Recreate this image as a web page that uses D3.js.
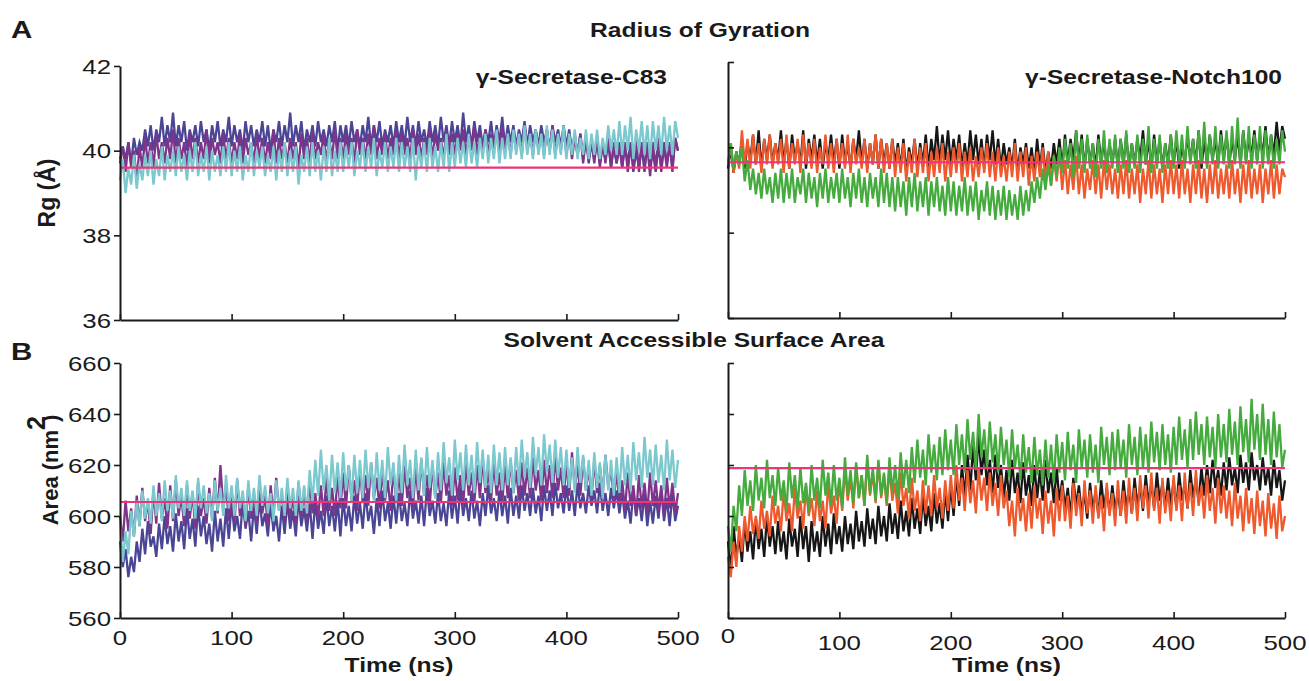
<!DOCTYPE html>
<html>
<head>
<meta charset="utf-8">
<script src="https://cdn.jsdelivr.net/npm/d3@7"></script>
<style>
  body { margin: 0; background: #fff; }
  svg { font-family: "Liberation Sans", Arial, sans-serif; }
</style>
</head>
<body>
<svg id="chart"></svg>
<script>
var svg_width = 1309
var svg_height = 681

// time in ns, one frame every 2.5 ns
var time = d3.range(0, 500.1, 2.5);

// Radius of gyration (Å), gamma-secretase-C83 runs
var rgC83Blue = [39.7,40.1,39.8,40.2,39.7,40.3,39.9,40.2,40.0,40.5,40.1,40.6,40.0,40.5,40.2,40.8,40.1,40.6,40.2,40.9,
  40.1,40.6,40.2,40.7,40.0,40.5,40.2,40.6,40.1,40.7,40.2,40.5,40.0,40.6,40.2,40.7,40.1,40.5,40.2,40.8,
  40.1,40.6,40.2,40.5,40.0,40.7,40.2,40.6,40.1,40.5,40.2,40.7,40.1,40.6,40.0,40.5,40.2,40.7,40.1,40.6,
  40.2,40.9,40.1,40.6,40.2,40.7,40.0,40.5,40.2,40.6,40.1,40.7,40.2,40.5,40.1,40.6,40.2,40.7,40.0,40.6,
  40.2,40.6,40.1,40.7,40.2,40.5,40.1,40.6,40.2,40.8,40.1,40.6,40.2,40.7,40.1,40.5,40.2,40.6,40.1,40.7,
  40.2,40.6,40.1,40.8,40.2,40.6,40.1,40.7,40.2,40.5,40.1,40.7,40.2,40.6,40.1,40.8,40.2,40.6,40.1,40.7,
  40.2,40.6,40.1,40.9,40.2,40.6,40.1,40.7,40.2,40.6,40.1,40.5,40.2,40.7,40.1,40.6,40.2,40.8,40.1,40.6,
  40.2,40.6,40.1,40.5,40.2,40.7,40.1,40.6,40.2,40.5,40.1,40.6,40.2,40.5,40.0,40.6,40.2,40.5,40.1,40.6,
  40.1,40.5,40.0,40.4,39.9,40.4,39.8,40.3,39.7,40.2,39.8,40.3,39.7,40.1,39.8,40.2,39.6,40.1,39.7,40.2,
  39.6,40.1,39.7,40.2,39.5,40.0,39.6,40.1,39.5,40.2,39.6,40.0,39.5,40.1,39.6,40.2,39.7,40.1,39.6,40.3,40.0];
var rgC83Purple = [39.8,40.1,39.5,40.2,39.6,40.0,39.3,40.1,39.6,40.3,39.7,40.2,39.6,40.4,39.8,40.2,39.7,40.3,39.8,40.5,
  39.7,40.3,39.8,40.2,39.6,40.4,39.8,40.3,39.7,40.2,39.8,40.5,39.7,40.3,39.9,40.2,39.7,40.4,39.8,40.3,
  39.7,40.2,39.8,40.4,39.7,40.3,39.9,40.2,39.7,40.4,39.8,40.3,39.7,40.2,39.8,40.5,39.7,40.3,39.8,40.2,
  39.7,40.3,39.8,40.2,39.6,40.4,39.8,40.3,39.7,40.5,39.8,40.2,39.9,40.4,39.7,40.3,39.8,40.5,39.8,40.3,
  39.8,40.4,39.9,40.3,39.7,40.5,39.9,40.3,39.8,40.4,39.9,40.6,39.8,40.3,39.9,40.4,39.8,40.3,39.9,40.5,
  39.8,40.4,39.9,40.3,39.8,40.5,39.9,40.4,39.8,40.3,39.9,40.5,39.8,40.4,40.0,40.3,39.8,40.5,39.9,40.4,
  39.9,40.4,40.0,40.5,39.9,40.4,40.0,40.6,39.9,40.4,40.0,40.5,39.9,40.4,40.0,40.5,39.9,40.6,40.0,40.4,
  39.9,40.5,40.0,40.4,39.9,40.6,40.0,40.4,39.9,40.5,40.0,40.4,39.9,40.5,40.0,40.6,39.9,40.4,40.0,40.5,
  39.9,40.4,39.8,40.3,39.9,40.4,39.7,40.3,39.8,40.2,39.7,40.3,39.6,40.2,39.7,40.3,39.6,40.2,39.7,40.1,
  39.6,40.2,39.5,40.1,39.6,40.3,39.5,40.2,39.6,40.1,39.4,40.2,39.6,40.3,39.5,40.1,39.6,40.2,39.5,40.3,40.0];
var rgC83Cyan = [39.3,39.8,39.0,39.6,39.2,39.9,39.1,39.7,39.3,39.9,39.4,40.0,39.2,39.8,39.4,40.1,39.3,39.9,39.5,40.0,
  39.4,40.1,39.5,39.9,39.3,40.0,39.5,40.2,39.4,39.9,39.5,40.1,39.3,40.0,39.5,39.9,39.4,40.1,39.5,40.2,
  39.4,40.0,39.5,40.1,39.3,39.9,39.5,40.2,39.4,40.0,39.6,40.1,39.4,39.9,39.5,40.1,39.3,40.0,39.5,40.2,
  39.4,40.0,39.5,40.1,39.2,39.9,39.5,40.1,39.4,40.2,39.5,40.0,39.3,40.1,39.5,40.3,39.4,40.0,39.5,40.2,
  39.5,40.1,39.6,40.2,39.4,40.0,39.6,40.2,39.5,40.1,39.6,40.3,39.4,40.0,39.6,40.2,39.5,40.1,39.6,40.3,
  39.5,40.2,39.6,40.1,39.5,40.3,39.3,40.1,39.6,40.2,39.5,40.3,39.6,40.1,39.5,40.2,39.6,40.4,39.5,40.2,
  39.6,40.3,39.7,40.2,39.6,40.4,39.7,40.2,39.6,40.3,39.8,40.4,39.7,40.3,39.8,40.5,39.7,40.3,39.8,40.4,
  39.8,40.5,39.9,40.4,39.8,40.6,39.9,40.4,39.8,40.5,39.9,40.4,39.8,40.6,39.9,40.5,39.8,40.4,39.9,40.6,
  39.8,40.4,39.9,40.5,39.8,40.3,39.9,40.5,39.8,40.4,39.9,40.5,39.8,40.3,39.9,40.6,40.0,40.5,39.9,40.7,
  39.9,40.6,40.0,40.8,39.8,40.5,40.0,40.7,39.9,40.6,39.8,40.7,40.0,40.6,39.9,40.8,40.0,40.6,39.9,40.7,40.3];
var rgC83Mean = 39.6;

// Radius of gyration (Å), gamma-secretase-Notch100 runs
var rgN100Black = [39.5,40.0,39.4,39.9,39.6,40.2,39.5,40.1,39.7,40.3,39.6,40.4,39.5,40.2,39.7,40.3,39.6,40.1,39.7,40.4,
  39.6,40.2,39.5,40.3,39.7,40.1,39.6,40.4,39.5,40.2,39.7,40.3,39.6,40.2,39.5,40.1,39.7,40.3,39.6,40.2,
  39.5,40.3,39.6,40.1,39.5,40.2,39.7,40.4,39.6,40.2,39.5,40.1,39.6,40.3,39.5,40.2,39.6,40.1,39.5,40.2,
  39.6,40.1,39.5,40.2,39.4,40.0,39.6,40.2,39.5,40.1,39.6,40.3,39.5,40.2,39.7,40.5,39.6,40.3,39.7,40.4,
  39.6,40.2,39.7,40.3,39.5,40.1,39.6,40.4,39.7,40.3,39.6,40.2,39.5,40.3,39.7,40.4,39.6,40.2,39.5,40.1,
  39.6,40.0,39.5,40.2,39.4,40.0,39.6,40.1,39.5,40.0,39.4,40.2,39.5,40.1,39.4,39.9,39.5,40.1,39.6,40.2,
  39.5,40.3,39.6,40.2,39.7,40.4,39.6,40.3,39.5,40.2,39.6,40.1,39.5,40.3,39.6,40.2,39.5,40.1,39.6,40.2,
  39.5,40.2,39.6,40.3,39.5,40.1,39.6,40.2,39.7,40.4,39.6,40.2,39.5,40.3,39.6,40.2,39.5,40.1,39.6,40.3,
  39.6,40.2,39.5,40.1,39.6,40.3,39.7,40.2,39.6,40.4,39.5,40.2,39.6,40.3,39.7,40.2,39.6,40.4,39.7,40.3,
  39.6,40.2,39.7,40.3,39.6,40.4,39.7,40.2,39.8,40.4,39.7,40.3,39.8,40.5,39.7,40.3,39.8,40.6,39.9,40.5,40.2];
var rgN100Orange = [39.6,40.1,39.4,39.9,39.5,40.4,39.6,40.2,39.5,40.3,39.6,40.1,39.4,40.2,39.6,40.3,39.5,40.1,39.6,40.2,
  39.4,40.3,39.5,40.1,39.6,40.2,39.4,40.3,39.6,40.1,39.5,40.2,39.4,40.0,39.6,40.3,39.5,40.1,39.4,40.2,
  39.6,40.1,39.5,40.3,39.4,40.2,39.6,40.0,39.5,40.2,39.4,40.1,39.6,40.3,39.5,40.2,39.4,40.1,39.5,40.2,
  39.3,40.0,39.4,40.1,39.2,39.9,39.4,40.2,39.3,40.0,39.4,40.1,39.2,39.9,39.3,40.0,39.4,40.1,39.2,39.9,
  39.3,40.0,39.4,40.1,39.2,39.9,39.3,40.0,39.2,39.8,39.3,40.0,39.4,40.1,39.3,39.9,39.2,40.0,39.3,39.8,
  39.2,39.9,39.3,40.1,39.2,39.9,39.3,40.0,39.1,39.8,39.2,39.9,39.3,40.0,39.2,39.9,39.1,39.8,39.2,39.9,
  39.0,39.7,38.9,39.6,39.0,39.8,38.9,39.6,38.8,39.5,39.0,39.7,38.9,39.6,38.8,39.7,39.0,39.6,38.9,39.5,
  38.8,39.6,38.9,39.7,38.8,39.5,38.9,39.6,38.7,39.5,38.9,39.7,38.8,39.6,38.9,39.5,38.7,39.6,38.9,39.7,
  38.9,39.6,38.8,39.7,38.9,39.5,38.7,39.6,38.9,39.7,38.8,39.5,38.7,39.6,38.9,39.7,38.8,39.5,38.9,39.6,
  38.8,39.7,38.9,39.5,38.7,39.6,38.9,39.7,38.8,39.5,38.9,39.6,38.7,39.5,38.9,39.7,38.8,39.6,38.9,39.5,39.3];
var rgN100Green = [39.6,40.1,39.5,39.9,39.6,40.0,39.2,39.7,39.0,39.5,38.9,39.4,38.8,39.5,38.9,39.3,38.7,39.4,38.8,39.5,
  38.7,39.4,38.8,39.5,38.7,39.3,38.9,39.5,38.7,39.4,38.8,39.3,38.6,39.4,38.8,39.5,38.7,39.3,38.8,39.4,
  38.7,39.5,38.8,39.3,38.6,39.4,38.8,39.5,38.7,39.3,38.6,39.4,38.8,39.3,38.6,39.5,38.7,39.4,38.6,39.3,
  38.5,39.3,38.6,39.2,38.4,39.3,38.6,39.4,38.5,39.2,38.6,39.3,38.4,39.2,38.6,39.3,38.5,39.1,38.4,39.3,
  38.5,39.2,38.4,39.1,38.5,39.3,38.4,39.1,38.5,39.2,38.3,39.0,38.5,39.2,38.4,39.1,38.3,39.0,38.4,39.1,
  38.3,39.0,38.4,38.9,38.3,39.1,38.4,39.0,38.5,39.2,38.7,39.3,38.8,39.5,39.0,39.6,39.1,39.8,39.3,40.0,
  39.4,40.2,39.5,40.1,39.3,40.4,39.5,40.2,39.4,40.3,39.5,40.1,39.3,40.2,39.5,40.4,39.4,40.2,39.5,40.3,
  39.4,40.2,39.5,40.4,39.4,40.1,39.5,40.3,39.4,40.2,39.6,40.5,39.4,40.2,39.5,40.3,39.4,40.1,39.5,40.3,
  39.5,40.4,39.6,40.3,39.5,40.5,39.6,40.2,39.5,40.4,39.6,40.6,39.5,40.3,39.6,40.5,39.5,40.3,39.6,40.4,
  39.5,40.5,39.6,40.7,39.5,40.4,39.6,40.5,39.5,40.3,39.6,40.5,39.5,40.4,39.6,40.3,39.5,40.2,39.6,40.4,39.9];
var rgN100Mean = 39.65;

// Solvent accessible surface area (nm²), C83 runs
var sasaC83Blue = [590,580,587,576,584,578,590,582,595,585,598,588,592,584,597,587,600,589,596,586,
  601,590,598,587,603,591,599,588,604,592,600,589,597,586,602,590,599,588,603,591,
  605,594,600,591,606,595,602,590,604,593,607,596,601,592,605,594,600,590,604,593,
  606,595,602,592,607,596,603,594,605,591,606,595,602,593,608,596,604,594,606,592,
  607,596,604,594,608,597,605,595,609,598,604,593,607,596,610,598,605,595,608,597,
  609,598,605,596,610,599,606,597,608,596,611,600,606,597,609,598,605,596,610,599,
  608,597,611,600,607,598,610,599,606,596,609,600,612,601,607,598,610,600,608,597,
  611,600,608,599,612,602,609,600,611,601,608,598,612,602,610,600,613,603,609,601,
  612,602,610,600,613,603,609,601,612,604,610,601,613,602,609,600,611,603,610,601,
  609,599,606,597,610,600,607,598,609,596,606,597,608,599,610,598,607,596,609,598,604];
var sasaC83Purple = [600,590,606,594,603,592,608,596,611,598,606,593,610,597,613,599,607,595,612,598,
  614,600,608,596,612,599,609,595,613,600,607,597,611,599,615,601,620,603,612,598,
  610,597,614,600,608,596,612,599,609,597,613,601,608,596,612,600,615,602,609,598,
  612,599,608,597,613,600,610,598,614,601,609,599,612,600,615,602,611,600,616,603,
  617,603,620,606,614,602,619,605,616,604,621,607,615,603,618,606,614,602,619,605,
  617,604,620,607,615,603,619,606,622,608,616,604,620,607,617,605,621,608,616,604,
  619,606,616,604,621,608,617,605,620,607,623,609,618,606,621,608,617,605,620,607,
  622,609,618,606,621,608,619,607,623,610,618,606,622,609,620,607,624,610,619,607,
  621,608,625,611,620,608,623,610,619,607,622,609,620,608,624,611,619,606,618,605,
  614,602,617,604,612,600,616,603,613,601,617,604,614,602,612,600,615,603,613,601,609];
var sasaC83Cyan = [598,582,594,585,602,592,606,596,610,599,607,597,612,600,609,598,614,602,610,599,
  616,603,611,600,614,602,610,599,615,603,612,601,609,598,614,602,611,600,616,603,
  612,600,615,603,610,598,614,602,611,600,616,604,612,601,609,598,614,602,611,600,
  615,603,611,600,614,602,612,601,618,605,622,608,626,610,620,606,624,609,621,607,
  625,610,620,606,624,609,622,607,626,611,621,606,625,610,622,607,627,612,621,606,
  624,609,628,612,622,607,626,610,623,608,627,611,622,607,625,610,629,613,623,608,
  630,614,625,610,628,612,624,609,629,613,626,611,624,609,628,612,625,610,627,612,
  623,609,627,612,630,615,625,611,631,616,627,612,632,617,628,613,630,615,627,612,
  626,611,623,609,627,613,624,610,622,608,625,611,621,607,624,610,622,608,623,609,
  627,612,624,610,629,614,625,611,631,615,626,612,628,613,624,610,630,614,626,611,622];
var sasaC83Mean = 605.5;

// Solvent accessible surface area (nm²), Notch100 runs
var sasaN100Black = [590,578,596,584,592,582,598,586,594,583,599,587,595,584,600,588,596,585,598,586,
  594,583,599,588,595,584,600,587,596,582,598,586,594,584,600,588,597,585,601,589,
  596,586,600,589,597,587,602,590,598,588,603,591,599,589,604,592,600,590,605,593,
  601,591,606,594,602,592,607,595,603,593,608,596,604,594,609,597,605,595,610,598,
  612,600,616,604,620,607,624,610,628,614,632,616,626,612,622,609,624,611,620,607,
  618,606,622,609,617,605,621,608,616,604,620,607,618,606,622,609,617,605,619,606,
  614,603,611,600,615,604,612,601,609,599,613,602,610,600,614,603,611,601,612,602,
  610,600,614,603,611,601,615,604,612,602,616,605,613,603,617,606,613,603,615,604,
  614,603,617,606,613,603,618,607,615,605,619,608,620,609,622,611,618,608,621,610,
  623,612,619,609,624,613,621,610,625,614,620,610,623,612,619,608,622,611,618,606,614];
var sasaN100Orange = [584,576,590,580,596,586,600,590,604,593,600,591,606,595,602,592,608,597,604,594,
  610,598,605,594,611,599,606,595,612,600,607,596,610,598,606,595,613,601,608,597,
  614,602,619,606,615,603,620,607,616,604,622,608,617,605,621,607,616,604,619,606,
  613,601,617,604,611,599,615,602,610,598,614,601,612,600,616,603,611,599,614,602,
  616,603,620,606,615,602,618,605,614,601,619,606,615,602,617,604,613,600,616,603,
  610,596,606,592,611,598,607,594,609,595,612,599,607,593,610,597,606,592,611,598,
  612,598,608,595,613,600,609,596,614,601,610,597,612,599,608,594,613,600,609,596,
  614,600,610,597,615,601,611,598,616,603,612,599,617,602,611,597,615,601,610,598,
  616,602,612,598,617,603,613,600,618,604,612,599,616,602,611,597,615,601,612,599,
  610,596,613,599,608,594,611,597,607,593,610,596,606,592,609,595,605,591,608,594,600];
var sasaN100Green = [596,586,604,594,612,600,618,604,614,602,620,606,615,603,622,607,616,604,619,606,
  614,602,621,607,616,603,619,605,613,601,620,606,615,603,622,608,617,604,620,606,
  615,603,623,608,618,605,621,607,616,604,624,609,619,606,622,608,617,605,623,609,
  620,607,625,611,622,609,627,613,630,615,626,612,632,617,628,614,631,616,634,618,
  630,616,636,620,632,617,638,622,633,618,640,623,634,619,637,621,632,617,635,620,
  630,615,634,619,628,614,632,617,627,613,631,616,626,612,630,615,628,613,632,617,
  629,614,633,618,628,613,634,619,630,615,632,617,628,613,635,620,631,616,633,618,
  634,619,630,615,636,620,631,616,635,619,632,617,637,621,633,618,636,620,632,617,
  635,620,639,622,634,619,638,622,641,624,636,620,639,623,635,619,640,623,636,621,
  642,624,637,620,643,625,638,621,646,626,640,622,644,624,638,620,641,623,636,619,626];
var sasaN100Mean = 618.8;

var rgTicks = [36, 38, 40, 42];
var sasaTicks = [560, 580, 600, 620, 640, 660];
var timeTicks = [0, 100, 200, 300, 400, 500];

var colC83 = ["#4a4595", "#7e348a", "#7bc8cf"];
var colN100 = ["#161616", "#ee5a2e", "#45ab3e"];
var meanColor = "#ec3477";
var ink = "#1a1a1a";
var stretch = 1.23;   // the figure is a little wider than tall

var svg = d3.select("#chart")
    .attr("width", svg_width)
    .attr("height", svg_height);

svg.append("rect")
    .attr("width", svg_width)
    .attr("height", svg_height)
    .attr("fill", "#fff");

function label(parent, x, y, str, size, bold, anchor) {
    return parent.append("text")
        .attr("transform", "translate(" + x + "," + y + ") scale(" + stretch + ",1)")
        .attr("text-anchor", anchor || "start")
        .attr("font-size", size)
        .attr("font-weight", bold ? "bold" : "normal")
        .attr("fill", ink)
        .text(str);
}

function drawPanel(p) {
    var xScale = d3.scaleLinear().domain([0, 500]).range([p.x0, p.x1]);
    var yScale = d3.scaleLinear().domain(p.domain).range([p.y1, p.y0]);
    var g = svg.append("g");

    var line = d3.line()
        .x(function(d, i) { return xScale(time[i]); })
        .y(function(d) { return yScale(d); });

    p.series.forEach(function(s, k) {
        g.append("path")
            .datum(s)
            .attr("fill", "none")
            .attr("stroke", p.colors[k])
            .attr("stroke-width", 2.3)
            .attr("stroke-linejoin", "miter")
            .attr("d", line);
    });

    // average line
    g.append("line")
        .attr("x1", xScale(0))
        .attr("x2", xScale(500))
        .attr("y1", yScale(p.mean))
        .attr("y2", yScale(p.mean))
        .attr("stroke", meanColor)
        .attr("stroke-width", 2.2);

    // y axis
    var yAxis = p.labels
        ? d3.axisLeft(yScale).tickValues(p.ticks).tickSize(6).tickSizeOuter(0).tickFormat("")
        : d3.axisRight(yScale).tickValues(p.ticks).tickSize(6).tickSizeOuter(0).tickFormat("");
    var ya = g.append("g")
        .attr("transform", "translate(" + p.x0 + ",0)")
        .call(yAxis);

    // x axis, ticks pointing inward
    var xAxis = d3.axisTop(xScale).tickValues(timeTicks).tickSize(6).tickSizeOuter(0).tickFormat("");
    var xa = g.append("g")
        .attr("transform", "translate(0," + p.y1 + ")")
        .call(xAxis);

    [ya, xa].forEach(function(a) {
        a.select(".domain").attr("stroke", ink).attr("stroke-width", 2);
        a.selectAll(".tick line").attr("stroke", ink).attr("stroke-width", 1.6);
    });

    if (p.labels) {
        p.ticks.forEach(function(t) {
            label(g, p.x0 - 9, yScale(t) + 7.5, t, 21, false, "end");
        });
    }

    if (p.timeLabels) {
        timeTicks.forEach(function(t) {
            var yy = (t === 0 && p.zeroUp) ? p.labelY - 7 : p.labelY;
            label(g, xScale(t), yy, t, 21, false, "middle");
        });
        label(g, (p.x0 + p.x1) / 2, 672, "Time (ns)", 20, true, "middle");
    }

    if (p.title) {
        label(g, p.titleX, 84, p.title, 20, true, "end");
    }
}

drawPanel({ x0: 120, x1: 678, y0: 66, y1: 320, domain: [36, 42], ticks: rgTicks,
    series: [rgC83Blue, rgC83Purple, rgC83Cyan], colors: colC83, mean: rgC83Mean,
    labels: true, title: "γ-Secretase-C83", titleX: 667 });
drawPanel({ x0: 728, x1: 1285, y0: 62, y1: 318, domain: [36, 42], ticks: rgTicks,
    series: [rgN100Black, rgN100Orange, rgN100Green], colors: colN100, mean: rgN100Mean,
    labels: false, title: "γ-Secretase-Notch100", titleX: 1282 });
drawPanel({ x0: 120, x1: 678, y0: 363, y1: 618, domain: [560, 660], ticks: sasaTicks,
    series: [sasaC83Blue, sasaC83Purple, sasaC83Cyan], colors: colC83, mean: sasaC83Mean,
    labels: true, timeLabels: true, labelY: 645 });
drawPanel({ x0: 728, x1: 1285, y0: 363, y1: 618, domain: [560, 660], ticks: sasaTicks,
    series: [sasaN100Black, sasaN100Orange, sasaN100Green], colors: colN100, mean: sasaN100Mean,
    labels: false, timeLabels: true, labelY: 650, zeroUp: true });

// panel letters and section titles
label(svg, 11, 38, "A", 24, true);
label(svg, 11, 360, "B", 24, true);
label(svg, 700, 37, "Radius of Gyration", 20, true, "middle");
label(svg, 694, 347, "Solvent Accessible Surface Area", 20, true, "middle");

// y axis titles
svg.append("text")
    .attr("transform", "translate(55,193) rotate(-90)")
    .attr("text-anchor", "middle")
    .attr("font-size", 23).attr("font-weight", "bold").attr("fill", ink)
    .text("Rg (Å)");
var areaLabel = svg.append("text")
    .attr("transform", "translate(58,470) rotate(-90)")
    .attr("text-anchor", "middle")
    .attr("font-size", 22).attr("font-weight", "bold").attr("fill", ink);
areaLabel.append("tspan").text("Area (nm");
areaLabel.append("tspan").attr("dy", -13).attr("font-size", 25).text("2");
areaLabel.append("tspan").attr("dy", 13).attr("dx", -6).text(")");
</script>
</body>
</html>
